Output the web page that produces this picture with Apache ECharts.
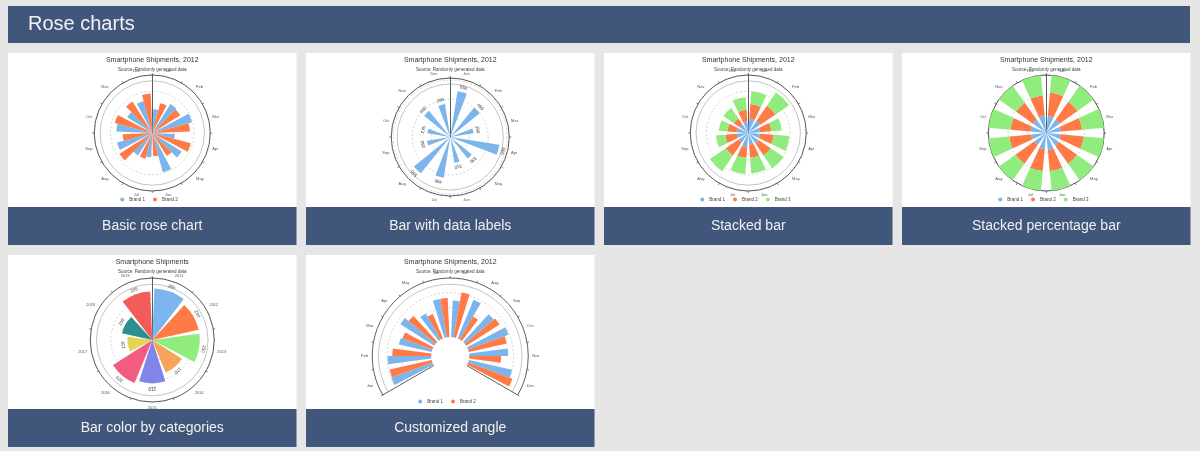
<!DOCTYPE html>
<html><head><meta charset="utf-8">
<script src="https://cdn.jsdelivr.net/npm/echarts@6/dist/echarts.min.js"></script>
<style>html,body{margin:0;padding:0;background:#e6e6e6;}#c{width:1200px;height:451px;}</style>
</head><body><div id="c"></div>
<script>
// ---------- data ----------
const pageTitle = 'Rose charts';
const captions = ['Basic rose chart','Bar with data labels','Stacked bar','Stacked percentage bar','Bar color by categories','Customized angle'];
const chartTitle = 'Smartphone Shipments, 2012';
const chartTitleNoYear = 'Smartphone Shipments';
const chartSub = 'Source: Randomly generated data';
const months = ['Jan','Feb','Mar','Apr','May','Jun','Jul','Aug','Sep','Oct','Nov','Dec'];
const brands = ['Brand 1','Brand 2','Brand 3'];
// 1 basic rose
const basicBrand1 = [41,59,71,39,60,70,42,46,63,62,51,57];
const basicBrand2 = [53,57,65,69,47,40,46,67,51,67,64,68];
// 2 labels
const labelValues = [550,450,280,590,330,310,490,555,280,275,400,395];
// 3 stacked
const stackBrand1 = [25,25,20,20,22,20,25,20,20,20,18,20];
const stackBrand2 = [25,32,20,24,25,23,18,27,20,16,12,20];
const stackBrand3 = [22,28,18,27,27,27,28,33,16,15,22,22];
// 4 stacked percentage
const pctBrand1 = [30,28,26,25,27,30,28,25,26,27,28,30];
const pctBrand2 = [40,38,36,40,38,36,38,40,38,35,36,35];
const pctBrand3 = [30,34,38,35,35,34,34,35,36,38,36,35];
// 5 color by categories
const yearCats = ['2011','2012','2013','2014','2015','2016','2017','2018','2019'];
const yearValues = [250,230,230,170,210,225,120,150,235];
// 6 customized angle
const angleBrand1 = [74,74,57,68,51,66,62,71,64,73,66,75];
const angleBrand2 = [73,66,54,60,45,66,77,45,67,66,54,80];

const palette = ['#7cb5ec','#ff7a45','#90ed7d','#f7a35c','#8085e9','#f15c80','#e4d354','#2b908f','#f45b5b'];

// ---------- layout ----------
const colX = [8,306,604,902], rowY = [53,255], PW = 288.5, IH = 154, CH = 38;
const panels = [[0,0],[1,0],[2,0],[3,0],[0,1],[1,1]];
const FONT = 'Liberation Sans, Arial, sans-serif';

const graphic = [
  {type:'rect', shape:{x:8,y:6,width:1182,height:37}, style:{fill:'#41567b'}, z:-10, silent:true},
  {type:'text', style:{x:28,y:24.5,text:pageTitle,fill:'#f2f2f2',fontSize:20,fontFamily:FONT,verticalAlign:'middle'}, z:-9, silent:true}
];
panels.forEach((p,i)=>{
  const x = colX[p[0]], y = rowY[p[1]];
  graphic.push({type:'rect', shape:{x:x,y:y,width:PW,height:IH}, style:{fill:'#ffffff'}, z:-10, silent:true});
  graphic.push({type:'rect', shape:{x:x,y:y+IH,width:PW,height:CH}, style:{fill:'#41567b'}, z:-10, silent:true});
  graphic.push({type:'text', style:{x:x+PW/2,y:y+IH+CH/2,text:captions[i],fill:'#f0f0f0',fontSize:14,fontFamily:FONT,align:'center',verticalAlign:'middle'}, z:-9, silent:true});
});

const titles = [], polars = [], angleAxes = [], radiusAxes = [], legends = [], series = [];
const D2R = Math.PI/180;
function addChart(i, cfg){
  const p = panels[i];
  const x = colX[p[0]], y = rowY[p[1]], cx = x + PW/2, cy = y + cfg.cy;
  const r0 = cfg.radius[0], r1 = cfg.radius[1];
  const partial = cfg.endAngle !== undefined;
  titles.push({text: cfg.title, subtext: chartSub, left: cx, top: y+4, textAlign:'center', padding:0, itemGap:3,
    textStyle:{fontSize:7,fontWeight:'normal',color:'#333',fontFamily:FONT},
    subtextStyle:{fontSize:4.5,color:'#444',fontFamily:FONT}});
  polars.push({center:[cx, cy], radius: cfg.radius});
  angleAxes.push(Object.assign({polarIndex:i, type:'category', data: cfg.cats, startAngle: cfg.startAngle || 90,
    axisLine:{show:!partial,lineStyle:{color:'#333',width:0.8}}, axisTick:{show:true,length:2,lineStyle:{color:'#333',width:0.6}},
    axisLabel:{fontSize:4,color:'#555',margin:4}, splitLine:{show:false}}, partial?{endAngle:cfg.endAngle}:{}));
  radiusAxes.push({polarIndex:i, type:'value', min:0, max:cfg.max, interval: cfg.interval,
    axisLine:{show:true,lineStyle:{color:'#333',width:0.8}}, axisTick:{show:false}, axisLabel:{show:false},
    splitLine:{show:!partial,lineStyle:{color:'#aaa',width:0.5,type:[2,2]}}});
  // decorative rings (axis furniture, from layout constants)
  if (!partial) {
    if (cfg.innerRing) graphic.push({type:'circle', shape:{cx:cx,cy:cy,r:r1*0.9}, style:{fill:null,stroke:'#888',lineWidth:0.5}, z:1, silent:true});
  } else {
    const sa = -cfg.startAngle*D2R, ea = -cfg.endAngle*D2R; // screen angles (y down)
    const arc = (r, style)=>graphic.push({type:'arc', shape:{cx:cx,cy:cy,r:r,startAngle:sa,endAngle:ea,clockwise:true}, style:Object.assign({fill:null},style), z:1, silent:true});
    arc(r1, {stroke:'#333', lineWidth:0.8});
    arc(r1*0.92, {stroke:'#888', lineWidth:0.5});
    [1,2,3].forEach(k=>arc(r0 + (r1-r0)*k*cfg.interval/cfg.max, {stroke:'#aaa', lineWidth:0.5, lineDash:[2,2]}));
    const a = cfg.endAngle*D2R;
    graphic.push({type:'line', shape:{x1:cx+r0*Math.cos(a), y1:cy-r0*Math.sin(a), x2:cx+r1*Math.cos(a), y2:cy-r1*Math.sin(a)}, style:{stroke:'#333',lineWidth:0.8}, z:1, silent:true});
  }
  if (cfg.legend) legends.push({data: cfg.legend, left: cx - cfg.legend.length*16, top: y + 144, orient:'horizontal', itemWidth:4, itemHeight:4, itemGap:8, icon:'circle', padding:0,
    textStyle:{fontSize:4.5,color:'#444',fontFamily:FONT}, selectedMode:false});
  cfg.series.forEach(s=>series.push(Object.assign({type:'bar', coordinateSystem:'polar', polarIndex:i, barGap:'0%', z:3}, s)));
}

addChart(0,{title:chartTitle, cats:months, cy:80, radius:[0,58], max:100, interval:36, innerRing:true, legend:['Brand 1','Brand 2'],
  series:[{name:brands[0],data:basicBrand1,itemStyle:{color:palette[0]},barCategoryGap:'15%'},
          {name:brands[1],data:basicBrand2,itemStyle:{color:palette[1]},barCategoryGap:'15%'}]});
addChart(1,{title:chartTitle, cats:months, cy:84, radius:[0,59], max:700, interval:225, innerRing:true,
  series:[{name:brands[0],data:labelValues,itemStyle:{color:palette[0]},barCategoryGap:'60%',
    label:{show:true,position:'end',fontSize:4.5,color:'#333',distance:2}}]});
addChart(2,{title:chartTitle, cats:months, cy:80, radius:[0,58], max:100, interval:36, innerRing:true, legend:brands,
  series:[{name:brands[0],data:stackBrand1,stack:'s',itemStyle:{color:palette[0]},barCategoryGap:'28%'},
          {name:brands[1],data:stackBrand2,stack:'s',itemStyle:{color:palette[1]},barCategoryGap:'28%'},
          {name:brands[2],data:stackBrand3,stack:'s',itemStyle:{color:palette[2]},barCategoryGap:'28%'}]});
addChart(3,{title:chartTitle, cats:months, cy:80, radius:[0,58], max:100, interval:33, legend:brands,
  series:[{name:brands[0],data:pctBrand1,stack:'p',itemStyle:{color:palette[0]},barCategoryGap:'35%'},
          {name:brands[1],data:pctBrand2,stack:'p',itemStyle:{color:palette[1]},barCategoryGap:'35%'},
          {name:brands[2],data:pctBrand3,stack:'p',itemStyle:{color:palette[2]},barCategoryGap:'35%'}]});
addChart(4,{title:chartTitleNoYear, cats:yearCats, cy:85, radius:[0,62], max:300, interval:100, innerRing:true,
  series:[{name:'Shipments',data:yearValues.map((v,k)=>({value:v,itemStyle:{color:palette[k]}})),barCategoryGap:'12%',
    label:{show:true,position:'end',fontSize:4.5,color:'#333',distance:2}}]});
addChart(5,{title:chartTitle, cats:months, cy:101, radius:[19,78], max:100, interval:25, startAngle:210, endAngle:-30, legend:['Brand 1','Brand 2'],
  series:[{name:brands[0],data:angleBrand1,itemStyle:{color:palette[0]},barCategoryGap:'25%'},
          {name:brands[1],data:angleBrand2,itemStyle:{color:palette[1]},barCategoryGap:'25%'}]});

const chart = echarts.init(document.getElementById('c'), null, {renderer:'canvas'});
chart.setOption({
  backgroundColor:'#e6e6e6', animation:false,
  graphic: graphic, title: titles, polar: polars, angleAxis: angleAxes, radiusAxis: radiusAxes, legend: legends, series: series
});
</script></body></html>
